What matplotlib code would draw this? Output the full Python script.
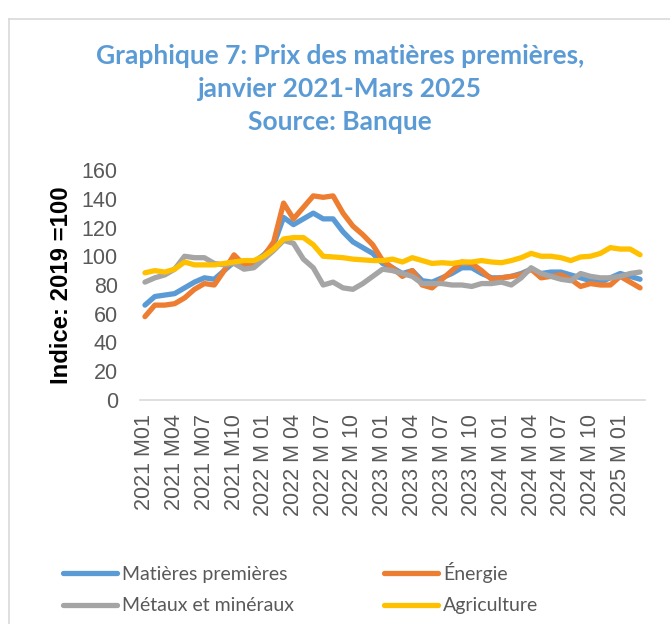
import matplotlib
matplotlib.use("Agg")
import matplotlib.pyplot as plt
from matplotlib.lines import Line2D

# monthly labels, janvier 2021 - mars 2025
months = [f"{y} M{m:02d}" if y == 2021 else f"{y} M {m:02d}"
          for y in range(2021, 2026) for m in range(1, 13)][:51]

matieres = [66, 72, 73, 74, 78, 82, 85, 84, 90, 96, 95, 96, 101, 108, 127, 122, 126,
            130, 126, 126, 117, 110, 106, 102, 95, 92, 88, 90, 83, 82, 85, 88, 92, 92,
            88, 85, 85, 86, 88, 91, 88, 89, 89, 87, 85, 83, 82, 85, 88, 86, 84]
energie = [58, 66, 66, 67, 71, 77, 81, 80, 90, 101, 94, 93, 100, 110, 137, 126, 134,
           142, 141, 142, 130, 121, 115, 108, 97, 92, 86, 90, 80, 78, 84, 90, 96, 95,
           90, 84, 85, 86, 87, 91, 85, 86, 87, 84, 79, 81, 80, 80, 86, 82, 78]
metaux = [82, 85, 87, 91, 100, 99, 99, 95, 94, 95, 91, 92, 98, 104, 111, 109, 98,
          92, 80, 82, 78, 77, 81, 86, 91, 90, 88, 86, 81, 81, 81, 80, 80, 79,
          81, 81, 82, 80, 85, 92, 88, 86, 84, 83, 88, 86, 85, 85, 86, 88, 89]
agriculture = [88.5, 90, 89, 91, 96, 94, 94, 94, 95, 96, 97, 97, 100, 105, 112, 113, 113,
               108, 100, 99.5, 99, 98, 97.5, 97, 97, 98, 96, 99, 97, 95, 95.5, 95, 96, 96,
               97, 96, 95.5, 97, 99, 102, 100, 100, 99, 97, 99.5, 100, 102, 106, 105, 105, 101]

series = [
    ("Matières premières", matieres, "#5B9BD5"),
    ("Énergie", energie, "#ED7D31"),
    ("Métaux et minéraux", metaux, "#A5A5A5"),
    ("Agriculture", agriculture, "#FFC000"),
]

W, H = 670, 624
fig = plt.figure(figsize=(W / 100, H / 100), dpi=100)
ax = fig.add_axes([140 / W, 1 - 400 / H, 505 / W, 230 / H])

x = list(range(len(months)))
for name, vals, color in series:
    ax.plot(x, vals, color=color, linewidth=3.8, solid_joinstyle="round",
            solid_capstyle="round", label=name)

ax.set_xlim(-0.5, len(months) - 0.5)
ax.set_ylim(0, 160)
ax.set_yticks(range(0, 161, 20))
ax.set_xticks(x[::3])
ax.set_xticklabels(months[::3], rotation=90, fontsize=15.5, color="#595959",
                   family="Liberation Sans")
ax.tick_params(axis="x", length=0, pad=10)
ax.tick_params(axis="y", length=0, pad=16, labelsize=15.5, labelcolor="#595959")
for lab in ax.get_yticklabels():
    lab.set_family("Liberation Sans")
for side in ("top", "right", "left"):
    ax.spines[side].set_visible(False)
ax.spines["bottom"].set_color("#D9D9D9")
ax.spines["bottom"].set_linewidth(1.2)

fig.text(62 / W, 1 - 285 / H, "Indice: 2019 =100", rotation=90, ha="center", va="center",
         fontsize=17.2, fontweight="bold", family="Liberation Sans", color="black")

title = "Graphique 7: Prix des matières premières,\njanvier 2021-Mars 2025\nSource: Banque"
fig.text(340 / W, 1 - 89 / H, title, ha="center", va="center", fontsize=19,
         fontweight="bold", family="Lato", color="#5B9BD5", linespacing=1.45)

# chart area border (top and left)
fig.add_artist(Line2D([9 / W, 9 / W], [0, 1 - 19 / H], color="#D9D9D9", linewidth=1.2))
fig.add_artist(Line2D([9 / W, 1], [1 - 19 / H, 1 - 19 / H], color="#D9D9D9", linewidth=1.2))

handles, labels = ax.get_legend_handles_labels()
order = [0, 2, 1, 3]
leg = fig.legend([handles[i] for i in order], [labels[i] for i in order],
                 loc="upper left", bbox_to_anchor=(55 / W, 1 - 554 / H), ncol=2,
                 frameon=False, prop={"family": "Lato", "size": 14},
                 handlelength=2.8, handletextpad=0.25, columnspacing=4.6,
                 labelspacing=0.75, borderaxespad=0)
for t in leg.get_texts():
    t.set_color("#595959")

fig.savefig("out.png", dpi=100)
